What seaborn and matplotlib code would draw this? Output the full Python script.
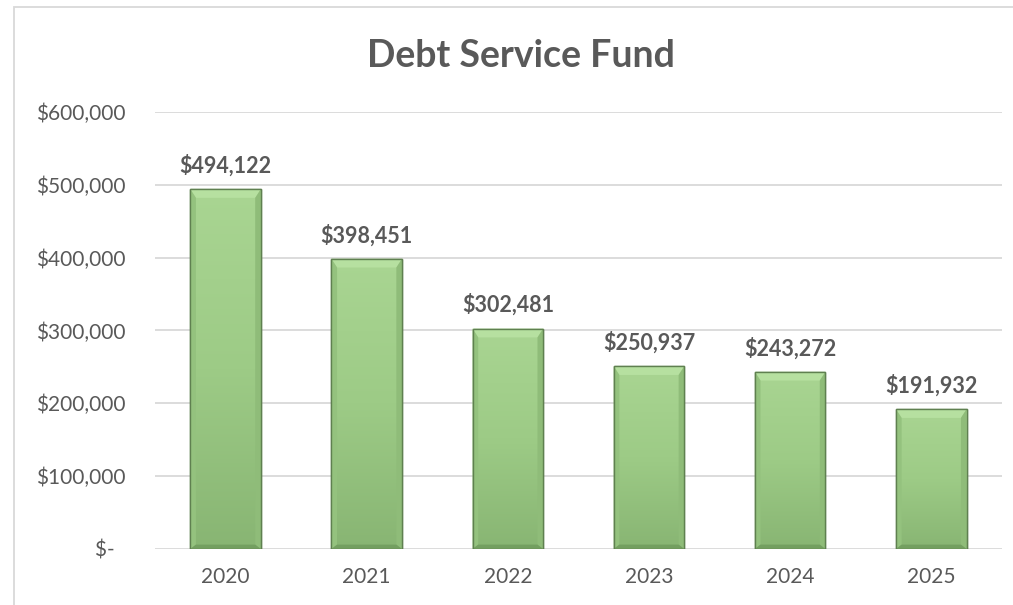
import numpy as np
import pandas as pd
import matplotlib
matplotlib.use("Agg")
import matplotlib.pyplot as plt
from matplotlib.colors import LinearSegmentedColormap
from matplotlib.patches import Rectangle, Polygon
import seaborn as sns

years = ["2020", "2021", "2022", "2023", "2024", "2025"]
balances = [494122, 398451, 302481, 250937, 243272, 191932]
y_ticks = [0, 100000, 200000, 300000, 400000, 500000, 600000]
y_tick_labels = ["$-  ", "$100,000", "$200,000", "$300,000", "$400,000", "$500,000", "$600,000"]
title = "Debt Service Fund"

sns.set_theme(style="white")
plt.rcParams["font.family"] = ["Lato", "DejaVu Sans"]

TEXT = "#595959"
GRID = "#d9d9d9"

df = pd.DataFrame({"year": years, "balance": balances})

fig = plt.figure(figsize=(10.13, 6.05), dpi=100)
ax = fig.add_axes([0.153, 0.0926, 0.836, 0.7223])

sns.barplot(data=df, x="year", y="balance", color="#9fcd88", width=0.5,
            saturation=1, ax=ax, edgecolor="#5f8050", linewidth=1.0)

ax.set_ylim(0, 600000)
ax.set_xlim(-0.5, len(years) - 0.5)
ax.set_yticks(y_ticks)
ax.set_yticklabels(y_tick_labels)
ax.yaxis.grid(True, color=GRID, linewidth=1.3)
ax.set_axisbelow(True)
for s in ax.spines.values():
    s.set_visible(False)
ax.tick_params(axis="y", length=0, pad=21, labelsize=15, labelcolor=TEXT)
ax.tick_params(axis="x", length=0, pad=13, labelsize=15, labelcolor=TEXT)
ax.set_xlabel("")
ax.set_ylabel("")

# Bevelled gradient fill for each bar
cmap = LinearSegmentedColormap.from_list("bar", ["#a9d592", "#9dcb86", "#88b573"])
grad = np.linspace(0, 1, 256).reshape(-1, 1)
for patch in ax.patches:
    x0, y0 = patch.get_x(), patch.get_y()
    w, h = patch.get_width(), patch.get_height()
    z = patch.get_zorder()
    im = ax.imshow(grad, cmap=cmap, aspect="auto", extent=(x0, x0 + w, y0, y0 + h),
                   zorder=z + 0.1, origin="upper")
    im.set_clip_path(patch)
    bx = w * 0.08
    by = 600000 * 0.02
    top = y0 + h
    # top bevel (light)
    ax.add_patch(Polygon([(x0, top), (x0 + w, top), (x0 + w - bx, top - by), (x0 + bx, top - by)],
                         closed=True, facecolor="#b6e0a0", edgecolor="none", zorder=z + 0.2))
    # side bevels
    ax.add_patch(Polygon([(x0, top), (x0 + bx, top - by), (x0 + bx, y0 + by * 0.5), (x0, y0)],
                         closed=True, facecolor="#94c27e", edgecolor="none", zorder=z + 0.2))
    ax.add_patch(Polygon([(x0 + w, top), (x0 + w - bx, top - by), (x0 + w - bx, y0 + by * 0.5), (x0 + w, y0)],
                         closed=True, facecolor="#8fbc79", edgecolor="none", zorder=z + 0.2))
    # bottom bevel (dark)
    ax.add_patch(Polygon([(x0, y0), (x0 + w, y0), (x0 + w - bx, y0 + by * 0.5), (x0 + bx, y0 + by * 0.5)],
                         closed=True, facecolor="#739f60", edgecolor="none", zorder=z + 0.2))
    ax.add_patch(Rectangle((x0, y0), w, h, facecolor="none", edgecolor="#5f8050",
                           linewidth=1.0, zorder=z + 0.3))

ax.bar_label(ax.containers[0], labels=[f"${v:,.0f}" for v in balances], padding=9,
             fontsize=15.5, fontweight="bold", color=TEXT)

fig.text(0.514, 0.907, title, ha="center", va="center", fontsize=27,
         fontweight="bold", color=TEXT)

# Chart frame
fig.add_artist(Rectangle((14 / 1013, -0.1), 1.2, 0.1 + (605 - 7) / 605,
                         transform=fig.transFigure, facecolor="none",
                         edgecolor=GRID, linewidth=1.3))

fig.savefig("out.png", dpi=100, facecolor="white")
